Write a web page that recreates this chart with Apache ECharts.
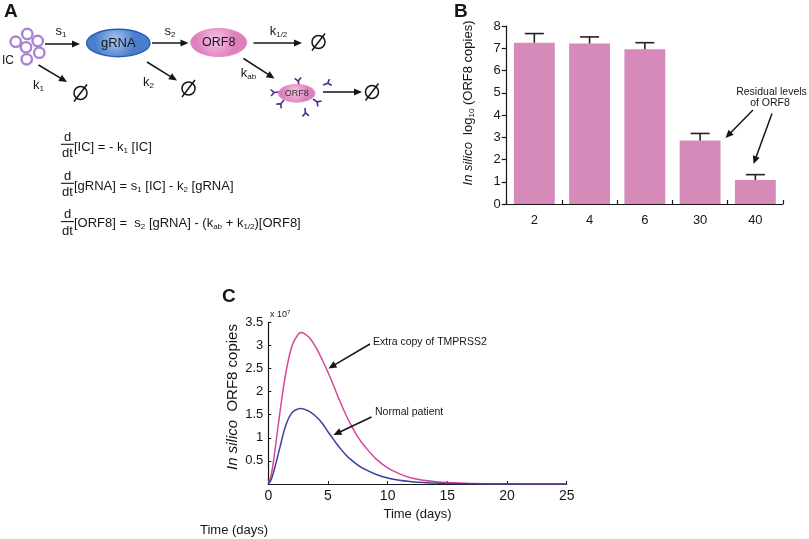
<!DOCTYPE html>
<html><head><meta charset="utf-8">
<script src="https://cdn.jsdelivr.net/npm/echarts@6/dist/echarts.min.js"></script>
<style>html,body{margin:0;padding:0;background:#fff}#c{width:809px;height:539px}</style>
</head><body><div id="c"></div>
<script>
// ---- Panel B data ----
const barCategories = ['2', '4', '6', '30', '40'];
const barValues = [7.25, 7.21, 6.95, 2.85, 1.08];
const barErrors = [0.41, 0.30, 0.30, 0.32, 0.24];
const barYTicks = [0, 1, 2, 3, 4, 5, 6, 7, 8];
// ---- Panel C data (units of 1e7 copies) ----
const timeDays = [0, 0.25, 0.5, 1, 1.5, 2, 2.5, 2.75, 3, 3.5, 4, 4.5, 5, 5.5, 6, 6.5, 7, 7.5, 8, 9, 10, 11, 12, 13, 14, 15, 17, 20, 25];
const extraCopy = [0, 0.2, 0.62, 1.6, 2.45, 3.0, 3.24, 3.28, 3.26, 3.15, 2.95, 2.70, 2.42, 2.11, 1.79, 1.50, 1.24, 1.02, 0.84, 0.55, 0.35, 0.22, 0.13, 0.08, 0.05, 0.03, 0.01, 0.003, 0];
const normalPatient = [0, 0.1, 0.31, 0.82, 1.3, 1.55, 1.625, 1.635, 1.62, 1.56, 1.46, 1.32, 1.13, 0.95, 0.78, 0.63, 0.51, 0.41, 0.33, 0.21, 0.13, 0.08, 0.05, 0.03, 0.02, 0.01, 0.004, 0.001, 0];
const lineXTicks = [0, 5, 10, 15, 20, 25];
const lineYTicks = [0, 0.5, 1, 1.5, 2, 2.5, 3, 3.5];

const FONT = '"Liberation Sans", Arial, Helvetica, sans-serif';
const INK = '#161616';
const G = [];
function txt(x, y, text, style, rot) {
  G.push({type: 'text', x: x, y: y, rotation: rot || 0, z: 20,
    style: Object.assign({text: text, fontFamily: FONT, fontSize: 12, fill: INK, align: 'left', verticalAlign: 'middle'}, style || {})});
}
function seg(x1, y1, x2, y2, w, c) {
  G.push({type: 'line', z: 20, shape: {x1: x1, y1: y1, x2: x2, y2: y2}, style: {stroke: c || INK, lineWidth: w || 1.4}});
}
function arrow(x1, y1, x2, y2) {
  const dx = x2 - x1, dy = y2 - y1, L = Math.hypot(dx, dy), ux = dx / L, uy = dy / L;
  const hl = 8, hw = 3.6, bx = x2 - ux * hl, by = y2 - uy * hl;
  seg(x1, y1, bx + ux, by + uy, 1.5);
  G.push({type: 'polygon', z: 20, shape: {points: [[x2, y2], [bx - uy * hw, by + ux * hw], [bx + uy * hw, by - ux * hw]]}, style: {fill: INK}});
}
function empty(cx, cy) {
  G.push({type: 'circle', z: 20, shape: {cx: cx, cy: cy, r: 6.5}, style: {fill: 'none', stroke: INK, lineWidth: 1.5}});
  seg(cx - 6.5, cy + 8.5, cx + 6.5, cy - 8.5, 1.5);
}
function antibody(bx, by, deg) {
  const a = deg * Math.PI / 180, dx = Math.sin(a), dy = -Math.cos(a);
  const ex = bx + dx * 5, ey = by + dy * 5;
  const c = '#4b2b8f';
  seg(bx, by, ex, ey, 1.6, c);
  const r = (t) => [Math.sin(a + t), -Math.cos(a + t)];
  const l1 = r(0.8), l2 = r(-0.8);
  seg(ex, ey, ex + l1[0] * 4.5, ey + l1[1] * 4.5, 1.6, c);
  seg(ex, ey, ex + l2[0] * 4.5, ey + l2[1] * 4.5, 1.6, c);
}
const subRich = {
  m: {fontFamily: FONT, fontSize: 13, lineHeight: 15, fill: INK},
  b: {fontFamily: FONT, fontSize: 8, lineHeight: 9, fill: INK, verticalAlign: 'bottom'},
  i: {fontFamily: FONT, fontSize: 13, lineHeight: 15, fill: INK, fontStyle: 'italic'}
};

// Panel labels
txt(4, 11.5, 'A', {fontSize: 19, fontWeight: 'bold'});
txt(454, 12, 'B', {fontSize: 19, fontWeight: 'bold'});
txt(222, 297, 'C', {fontSize: 19, fontWeight: 'bold'});

// ---- Panel A diagram ----
[[27.3, 34], [15.7, 41.7], [37.7, 41], [26, 47.3], [39.3, 52.7], [26.7, 59.3]].forEach(p => {
  G.push({type: 'circle', z: 20, shape: {cx: p[0], cy: p[1], r: 5.2}, style: {fill: '#fff', stroke: '#a984d3', lineWidth: 2.4}});
});
txt(2, 61, 'IC', {fontSize: 12});
arrow(45, 44, 80, 44);
txt(61, 31, '{m|s}{b|1}', {rich: subRich, align: 'center'});
G.push({type: 'ellipse', z: 19, shape: {cx: 118.3, cy: 43, rx: 31.7, ry: 13.7},
  style: {stroke: '#2a5caf', lineWidth: 1.4, fill: {type: 'radial', x: 0.45, y: 0.4, r: 0.7, colorStops: [{offset: 0, color: '#a9c8f0'}, {offset: 1, color: '#4a7dcc'}]}}});
txt(118.3, 43.5, 'gRNA', {fontSize: 13, align: 'center'});
arrow(152, 43, 188.5, 43);
txt(170, 31.5, '{m|s}{b|2}', {rich: subRich, align: 'center'});
G.push({type: 'ellipse', z: 19, shape: {cx: 218.7, cy: 42.5, rx: 28, ry: 14},
  style: {stroke: '#e28fc5', lineWidth: 1, fill: {type: 'radial', x: 0.45, y: 0.4, r: 0.7, colorStops: [{offset: 0, color: '#f4c4e4'}, {offset: 1, color: '#dd80bd'}]}}});
txt(218.7, 43, 'ORF8', {fontSize: 12.5, align: 'center'});
arrow(253.5, 43, 302, 43);
txt(278.5, 31.5, '{m|k}{b|1/2}', {rich: subRich, align: 'center'});
empty(318.5, 42);
arrow(38.5, 65, 67, 82);
txt(38.5, 85, '{m|k}{b|1}', {rich: subRich, align: 'center'});
empty(80.5, 93);
arrow(147, 62, 177, 80.5);
txt(148.5, 82, '{m|k}{b|2}', {rich: subRich, align: 'center'});
empty(188.5, 88.5);
arrow(243.5, 58.5, 274.5, 78.5);
txt(248.5, 73.5, '{m|k}{b|ab}', {rich: subRich, align: 'center'});
antibody(299, 86, -8);
antibody(323, 85, 70);
antibody(279, 92, -95);
antibody(284, 100, -140);
antibody(313, 99, 125);
antibody(305, 108, 175);
G.push({type: 'ellipse', z: 21, shape: {cx: 296.7, cy: 93.3, rx: 18.3, ry: 8.8},
  style: {stroke: '#e28fc5', lineWidth: 1, fill: {type: 'radial', x: 0.45, y: 0.4, r: 0.7, colorStops: [{offset: 0, color: '#f4c4e4'}, {offset: 1, color: '#dd80bd'}]}}});
G.push({type: 'text', x: 296.7, y: 93.8, z: 22, style: {text: 'ORF8', fontFamily: FONT, fontSize: 9, fill: '#333', align: 'center', verticalAlign: 'middle'}});
arrow(323, 92, 362, 92);
empty(372, 92);

// Equations
[[137, 144.3, 153, 147], [176, 183.3, 192, 186], [214, 221.6, 231, 223.5]].forEach(r => {
  txt(67.5, r[0], 'd', {fontSize: 13, align: 'center'});
  seg(61, r[1], 74, r[1], 1.1);
  txt(67.5, r[2], 'dt', {fontSize: 13, align: 'center'});
});
txt(74, 147, '{m|[IC] = - k}{b|1}{m| [IC]}', {rich: subRich});
txt(74, 186, '{m|[gRNA] = s}{b|1}{m| [IC] - k}{b|2}{m| [gRNA]}', {rich: subRich});
txt(74, 223.5, '{m|[ORF8] =  s}{b|2}{m| [gRNA] - (k}{b|ab}{m| + k}{b|1/2}{m|)[ORF8]}', {rich: subRich});

// ---- Panel B annotations ----
txt(468, 103, '{i|In silico}{m|  log}{b|10}{m| (ORF8 copies)}', {rich: subRich, align: 'center'}, Math.PI / 2);
txt(771.5, 91.7, 'Residual levels', {fontSize: 10.5, align: 'center'});
txt(770, 103.3, 'of ORF8', {fontSize: 10.5, align: 'center'});
arrow(753, 110, 725.5, 138);
arrow(772, 113.5, 753.5, 164);

// ---- Panel C annotations ----
const richC = {
  m: {fontFamily: FONT, fontSize: 15, lineHeight: 17, fill: INK},
  i: {fontFamily: FONT, fontSize: 15, lineHeight: 17, fill: INK, fontStyle: 'italic'},
  s: {fontFamily: FONT, fontSize: 9, lineHeight: 10, fill: INK},
  p: {fontFamily: FONT, fontSize: 6, lineHeight: 10, fill: INK, verticalAlign: 'top'}
};
txt(233, 397, '{i|In silico}{m|  ORF8 copies}', {rich: richC, align: 'center'}, Math.PI / 2);
txt(270, 314.5, '{s|x 10}{p|7}', {rich: richC});
txt(373, 342, 'Extra copy of TMPRSS2', {fontSize: 10.5});
arrow(370, 344, 328.5, 368.5);
txt(375, 412, 'Normal patient', {fontSize: 10.5});
arrow(371.5, 417, 333.5, 435);
txt(200, 530, 'Time (days)', {fontSize: 13});

const axisLineStyle = {lineStyle: {color: INK, width: 1.2}};
const chart = echarts.init(document.getElementById('c'), null, {renderer: 'canvas'});
chart.setOption({
  animation: false,
  backgroundColor: '#fff',
  textStyle: {fontFamily: FONT},
  grid: [
    {left: 506.7, top: 26, width: 276.3, height: 178, outerBoundsMode: 'none', containLabel: false},
    {left: 268.3, top: 322.3, width: 298.4, height: 161.7, outerBoundsMode: 'none', containLabel: false}
  ],
  xAxis: [
    {type: 'category', gridIndex: 0, data: barCategories, boundaryGap: true,
      axisLine: axisLineStyle,
      axisTick: {show: true, inside: true, length: 4, lineStyle: {color: INK, width: 1.2}},
      axisLabel: {color: INK, fontSize: 13, margin: 10, fontFamily: FONT}},
    {type: 'value', gridIndex: 1, min: lineXTicks[0], max: lineXTicks[lineXTicks.length - 1], interval: 5,
      name: 'Time (days)', nameLocation: 'middle', nameGap: 24,
      nameTextStyle: {color: INK, fontSize: 13, fontFamily: FONT},
      axisLine: axisLineStyle, splitLine: {show: false},
      axisTick: {show: true, inside: true, length: 3, lineStyle: {color: INK}},
      axisLabel: {color: INK, fontSize: 14, margin: 5, fontFamily: FONT}}
  ],
  yAxis: [
    {type: 'value', gridIndex: 0, min: barYTicks[0], max: barYTicks[barYTicks.length - 1], interval: 1,
      axisLine: {show: true, lineStyle: {color: INK, width: 1.2}}, splitLine: {show: false},
      axisTick: {show: true, inside: false, length: 5, lineStyle: {color: INK, width: 1.2}},
      axisLabel: {color: INK, fontSize: 13, margin: 6, fontFamily: FONT}},
    {type: 'value', gridIndex: 1, min: lineYTicks[0], max: lineYTicks[lineYTicks.length - 1], interval: 0.5,
      axisLine: {show: true, lineStyle: {color: INK, width: 1.2}}, splitLine: {show: false},
      axisTick: {show: true, inside: true, length: 3, lineStyle: {color: INK}},
      axisLabel: {color: INK, fontSize: 13, margin: 5, fontFamily: FONT, formatter: v => v === 0 ? '' : String(v)}}
  ],
  series: [
    {type: 'bar', xAxisIndex: 0, yAxisIndex: 0, data: barValues, barWidth: '74%',
      itemStyle: {color: '#d58ab9'}},
    {type: 'custom', xAxisIndex: 0, yAxisIndex: 0, z: 5,
      data: barValues.map((v, i) => [i, v, barErrors[i]]),
      encode: {x: 0, y: 1},
      renderItem: function (params, api) {
        const i = api.value(0), v = api.value(1), e = api.value(2);
        const b = api.coord([i, v]), t = api.coord([i, v + e]);
        const hw = 9.5;
        return {type: 'group', children: [
          {type: 'line', shape: {x1: b[0], y1: b[1], x2: t[0], y2: t[1]}, style: {stroke: '#222', lineWidth: 1.6}},
          {type: 'line', shape: {x1: t[0] - hw, y1: t[1], x2: t[0] + hw, y2: t[1]}, style: {stroke: '#222', lineWidth: 1.6}}
        ]};
      }},
    {type: 'line', name: 'Extra copy of TMPRSS2', xAxisIndex: 1, yAxisIndex: 1, smooth: 0.4, showSymbol: false,
      data: timeDays.map((t, i) => [t, extraCopy[i]]),
      lineStyle: {color: '#d6469a', width: 1.5}, itemStyle: {color: '#d6469a'}},
    {type: 'line', name: 'Normal patient', xAxisIndex: 1, yAxisIndex: 1, smooth: 0.4, showSymbol: false,
      data: timeDays.map((t, i) => [t, normalPatient[i]]),
      lineStyle: {color: '#3a3f9c', width: 1.5}, itemStyle: {color: '#3a3f9c'}}
  ],
  graphic: G
});
</script>
</body></html>
